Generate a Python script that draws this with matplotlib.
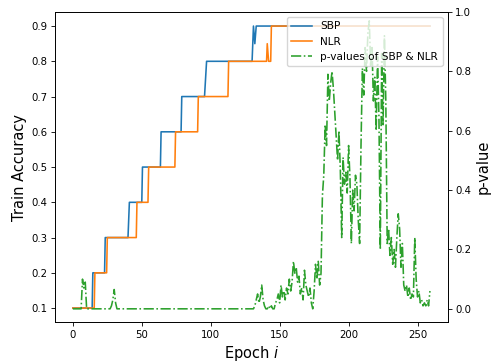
import matplotlib
matplotlib.use('Agg')
import matplotlib.pyplot as plt

# the original looks like a 6.4x4.8 figure shrunk down, so scale sizes
s = 0.767
plt.rcParams['xtick.major.size'] = 3.5 * s
plt.rcParams['ytick.major.size'] = 3.5 * s
plt.rcParams['xtick.major.pad'] = 3.5 * s
plt.rcParams['ytick.major.pad'] = 3.5 * s
plt.rcParams['xtick.major.width'] = 0.8 * s
plt.rcParams['ytick.major.width'] = 0.8 * s
plt.rcParams['axes.linewidth'] = 0.8 * s
plt.rcParams['axes.labelpad'] = 4.0 * s

# Corner points of the accuracy curves (epoch, accuracy)
sbp_epochs = [0, 14, 14.5, 23, 23.5, 40, 41, 50, 50.5, 63.5, 64, 78.5, 79, 95.5, 97, 130, 131, 132, 133, 259]
sbp_acc = [0.1, 0.1, 0.2, 0.2, 0.3, 0.3, 0.4, 0.4, 0.5, 0.5, 0.6, 0.6, 0.7, 0.7, 0.8, 0.8, 0.9, 0.85, 0.9, 0.9]

nlr_epochs = [0, 15.5, 16, 24.5, 25, 46, 46.5, 54.5, 55, 74, 74.5, 90.5, 91, 112.5, 113, 140.5, 141, 142, 143.5, 144, 259]
nlr_acc = [0.1, 0.1, 0.2, 0.2, 0.3, 0.3, 0.4, 0.4, 0.5, 0.5, 0.6, 0.6, 0.7, 0.7, 0.8, 0.8, 0.85, 0.8, 0.8, 0.9, 0.9]

# p-values for every epoch 0..259
p_values = [
    0.0, 0.0, 0.0, 0.0, 0.0, 0.0, 0.0, 0.10, 0.07, 0.09,
    0.0, 0.0, 0.0, 0.0, 0.0, 0.0, 0.0, 0.0, 0.0, 0.0,
    0.0, 0.0, 0.0, 0.0, 0.0, 0.0, 0.0, 0.0, 0.01, 0.03,
    0.065, 0.02, 0.0, 0.0, 0.0, 0.0, 0.0, 0.0, 0.0, 0.0,
    0.0, 0.0, 0.0, 0.0, 0.0, 0.0, 0.0, 0.0, 0.0, 0.0,
    0.0, 0.0, 0.0, 0.0, 0.0, 0.0, 0.0, 0.0, 0.0, 0.0,
    0.0, 0.0, 0.0, 0.0, 0.0, 0.0, 0.0, 0.0, 0.0, 0.0,
    0.0, 0.0, 0.0, 0.0, 0.0, 0.0, 0.0, 0.0, 0.0, 0.0,
    0.0, 0.0, 0.0, 0.0, 0.0, 0.0, 0.0, 0.0, 0.0, 0.0,
    0.0, 0.0, 0.0, 0.0, 0.0, 0.0, 0.0, 0.0, 0.0, 0.0,
    0.0, 0.0, 0.0, 0.0, 0.0, 0.0, 0.0, 0.0, 0.0, 0.0,
    0.0, 0.0, 0.0, 0.0, 0.0, 0.0, 0.0, 0.0, 0.0, 0.0,
    0.0, 0.0, 0.0, 0.0, 0.0, 0.0, 0.0, 0.0, 0.0, 0.0,
    0.0, 0.0, 0.01, 0.03, 0.05, 0.02, 0.04, 0.08, 0.03, 0.01,
    0.0, 0.0, 0.01, 0.0, 0.01, 0.0, 0.0, 0.02, 0.03, 0.05,
    0.02, 0.08, 0.04, 0.06, 0.03, 0.07, 0.05, 0.10, 0.06, 0.09,
    0.16, 0.12, 0.14, 0.09, 0.11, 0.05, 0.07, 0.03, 0.13, 0.08,
    0.06, 0.04, 0.07, 0.02, 0.0, 0.06, 0.15, 0.10, 0.16, 0.08,
    0.12, 0.38, 0.45, 0.62, 0.55, 0.79, 0.70, 0.76, 0.80, 0.74,
    0.66, 0.58, 0.50, 0.60, 0.47, 0.24, 0.51, 0.42, 0.46, 0.39,
    0.55, 0.44, 0.22, 0.40, 0.33, 0.45, 0.42, 0.30, 0.22, 0.55,
    0.81, 0.72, 0.88, 0.80, 0.93, 0.97, 0.82, 0.88, 0.70, 0.78,
    0.60, 0.85, 0.65, 0.20, 0.86, 0.62, 0.92, 0.70, 0.22, 0.27,
    0.18, 0.24, 0.15, 0.20, 0.14, 0.24, 0.32, 0.27, 0.14, 0.22,
    0.08, 0.06, 0.08, 0.04, 0.07, 0.03, 0.05, 0.04, 0.24, 0.10,
    0.04, 0.06, 0.02, 0.03, 0.01, 0.02, 0.01, 0.03, 0.01, 0.06,
]
p_epochs = list(range(len(p_values)))

fig, ax = plt.subplots(figsize=(4.91, 3.62), dpi=100)
fig.subplots_adjust(left=0.112, right=0.912, top=0.967, bottom=0.11)

l1, = ax.plot(sbp_epochs, sbp_acc, color='tab:blue', lw=1.15, label='SBP')
l2, = ax.plot(nlr_epochs, nlr_acc, color='tab:orange', lw=1.15, label='NLR')
ax.set_xlabel('Epoch $i$', fontsize=10.5)
ax.set_ylabel('Train Accuracy', fontsize=10.5)
ax.tick_params(labelsize=7.3)

ax2 = ax.twinx()
l3, = ax2.plot(p_epochs, p_values, color='tab:green', ls='-.', lw=1.15,
               label='p-values of SBP & NLR')
ax2.set_ylim(-0.045, 1.0)
ax2.set_ylabel('p-value', fontsize=10.5)
ax2.tick_params(labelsize=7.3)

ax2.legend(handles=[l1, l2, l3], loc='upper right', fontsize=7.6)

fig.savefig('out.png', dpi=100)
